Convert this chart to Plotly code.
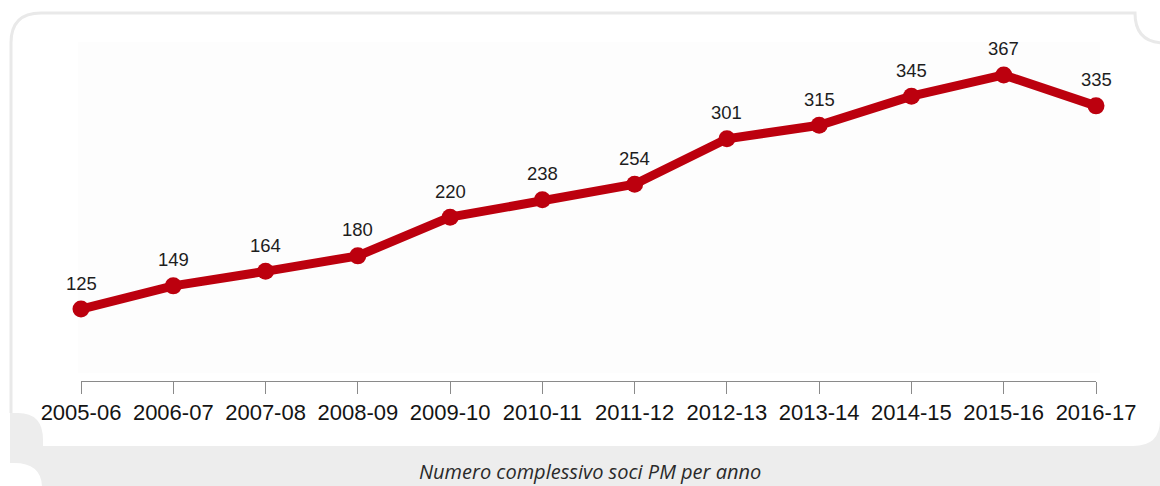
import plotly.graph_objects as go

categories = ["2005-06", "2006-07", "2007-08", "2008-09", "2009-10", "2010-11",
              "2011-12", "2012-13", "2013-14", "2014-15", "2015-16", "2016-17"]
soci = [125, 149, 164, 180, 220, 238, 254, 301, 315, 345, 367, 335]
caption = "Numero complessivo soci PM per anno"

W, H = 1160, 486
L, R, T, B = 81, 64, 42, 105
PW, PH = W - L - R, H - T - B

def px(x):
    return (x - L) / PW

def py(y):
    return (H - B - y) / PH

def path(points):
    out = []
    for p in points:
        cmd = p[0]
        vals = p[1:]
        coords = []
        for i in range(0, len(vals), 2):
            coords.append(f"{px(vals[i]):.5f},{py(vals[i+1]):.5f}")
        out.append(cmd + " " + " ".join(coords))
    return " ".join(out)

RED = "#bc000e"
LINE_GRAY = "#e9e9e9"
BAND = "#ededed"

xs = list(range(len(categories)))

fig = go.Figure()
fig.add_trace(go.Scatter(
    x=xs, y=soci, mode="lines+markers",
    line=dict(color=RED, width=9),
    marker=dict(color=RED, size=17),
    cliponaxis=False, hoverinfo="skip", showlegend=False,
))

annotations = []
for xi, v in zip(xs, soci):
    annotations.append(dict(
        x=xi, y=v, xref="x", yref="y", text=str(v), showarrow=False,
        yshift=26, font=dict(family="Liberation Sans, Arial", size=18.5, color="#1e1e1e"),
    ))
annotations.append(dict(
    x=px(590), y=py(471), xref="paper", yref="paper",
    text="<i>" + caption + "</i>", showarrow=False,
    xanchor="center", yanchor="middle",
    font=dict(family="Open Sans", size=20, color="#2a2a2a"),
))

shapes = [
    dict(type="rect", xref="paper", yref="paper", layer="below",
         x0=px(78), x1=px(1100), y0=py(373), y1=py(42),
         fillcolor="#fdfdfd", line=dict(width=0)),
    dict(type="path", xref="paper", yref="paper", layer="below",
         path=path([("M", 11, 413), ("L", 11, 43), ("Q", 11, 13, 41, 13), ("L", 1135, 13),
                    ("Q", 1135, 43, 1165, 43)]),
         line=dict(color=LINE_GRAY, width=3)),
    dict(type="path", xref="paper", yref="paper", layer="below",
         path=path([("M", 0, 446), ("L", 1133, 446), ("Q", 1160, 446, 1160, 420),
                    ("L", 1162, 420), ("L", 1162, 488), ("L", 0, 488), ("Z",)]),
         fillcolor=BAND, line=dict(width=0)),
    dict(type="path", xref="paper", yref="paper", layer="below",
         path=path([("M", 10, 447), ("L", 10, 413), ("L", 18, 413), ("Q", 43, 413, 43, 440),
                    ("L", 43, 447), ("Z",)]),
         fillcolor=BAND, line=dict(width=0)),
    dict(type="path", xref="paper", yref="paper", layer="below",
         path=path([("M", -2, 446), ("L", 10, 446), ("L", 10, 463), ("L", 14, 463),
                    ("Q", 42, 463, 42, 488), ("L", -2, 488), ("Z",)]),
         fillcolor="#ffffff", line=dict(width=0)),
]

fig.update_layout(
    width=W, height=H,
    margin=dict(l=L, r=R, t=T, b=B, pad=0),
    paper_bgcolor="#ffffff", plot_bgcolor="rgba(0,0,0,0)",
    showlegend=False,
    annotations=annotations,
    shapes=shapes,
    xaxis=dict(
        range=[0, len(categories) - 1], tickmode="array", tickvals=xs, ticktext=categories,
        showgrid=False, zeroline=False, showline=True, linecolor="#8a8a8a", linewidth=1,
        ticks="outside", ticklen=12, tickcolor="#8a8a8a", tickwidth=1,
        tickfont=dict(family="Liberation Sans, Arial", size=22, color="#141414"),
        fixedrange=True,
    ),
    yaxis=dict(
        range=[50.7, 401], visible=False, showgrid=False, zeroline=False, fixedrange=True,
    ),
)

fig.write_html(
    "out.html",
    config={"displayModeBar": False},
    post_script="document.body.style.margin='0';document.body.style.overflow='hidden';",
)
